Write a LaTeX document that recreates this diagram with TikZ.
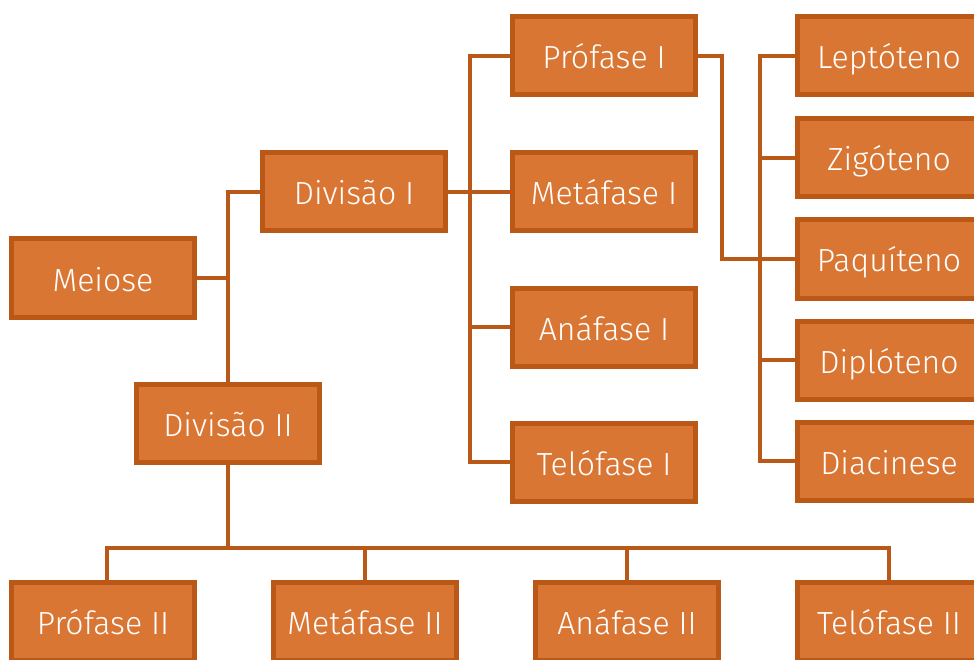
\documentclass[tikz,border=0pt]{standalone}
\usepackage{fontspec}
\setmainfont{Fira Sans Light}
\usetikzlibrary{positioning}
\definecolor{boxfill}{HTML}{DA7634}
\definecolor{boxline}{HTML}{BA5818}
\tikzstyle{phasebox}=[rectangle,draw=boxline,fill=boxfill,line width=5pt,
minimum width=183pt,minimum height=78pt,inner sep=0pt,text=white,
text height=26pt,text depth=0pt,font=\fontsize{32}{32}\selectfont]
\tikzstyle{linkline}=[draw=boxline,line width=4pt]

\begin{document}
\begin{tikzpicture}[x=1pt,y=-1pt]
        \useasboundingbox (0,0) rectangle (974,660);
        % left part
        \node[phasebox] (meiose) at (103,278) {Meiose};
        \node[phasebox] (div1) at (354,192) {Divisão I};
        \node[phasebox] (div2) at (228,423) {Divisão II};

        % phases of the first division
        \node[phasebox] (pro1) at (604,56) {Prófase I};
        \node[phasebox] (met1) at (604,192) {Metáfase I};
        \node[phasebox] (ana1) at (604,327) {Anáfase I};
        \node[phasebox] (tel1) at (604,462) {Telófase I};

        % stages of prophase I
        \node[phasebox] (lep) at (889,56) {Leptóteno};
        \node[phasebox] (zig) at (889,158) {Zigóteno};
        \node[phasebox] (paq) at (889,259) {Paquíteno};
        \node[phasebox] (dip) at (889,360) {Diplóteno};
        \node[phasebox] (dia) at (889,461) {Diacinese};

        % phases of the second division
        \node[phasebox] (pro2) at (103,621) {Prófase II};
        \node[phasebox] (met2) at (365,621) {Metáfase II};
        \node[phasebox] (ana2) at (627,621) {Anáfase II};
        \node[phasebox] (tel2) at (889,621) {Telófase II};

        \coordinate (fork1) at (470,192);
        \coordinate (prolink) at (722,259);
        \coordinate (fork2) at (760,259);
        \coordinate (fork3) at (228,548);

        \draw[linkline] (meiose.east) -| (div2.north);
        \draw[linkline] (div1.west) -| (div2.north);
        \draw[linkline] (div1.east) -- (fork1);
        \foreach \n in {pro1,met1,ana1,tel1}
            \draw[linkline] (fork1) |- (\n.west);
        \draw[linkline] (pro1.east) -| (prolink) -- (paq.west);
        \foreach \n in {lep,zig,paq,dip,dia}
            \draw[linkline] (fork2) |- (\n.west);
        \draw[linkline] (div2.south) -- (fork3);
        \draw[linkline] (fork3) -| ([xshift=4pt]pro2.north);
        \foreach \n in {met2,ana2,tel2}
            \draw[linkline] (fork3) -| (\n.north);
    \end{tikzpicture}
\end{document}
